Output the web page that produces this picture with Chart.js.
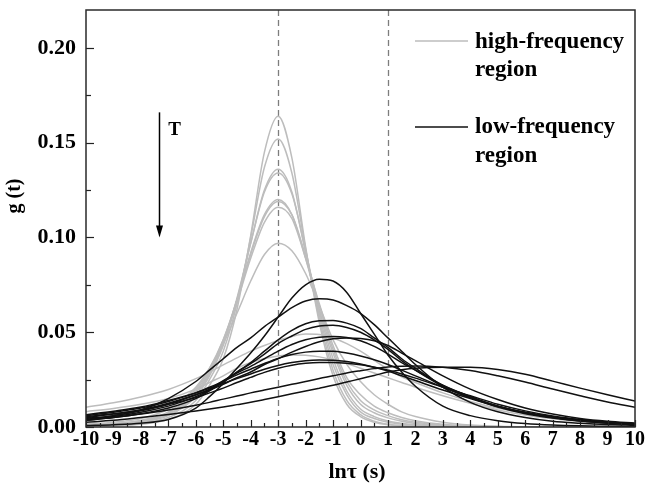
<!DOCTYPE html>
<html>
<head>
<meta charset="utf-8">
<script src="https://cdn.jsdelivr.net/npm/chart.js@4.4.1/dist/chart.umd.min.js"></script>
<style>
html, body { margin: 0; padding: 0; background: #fff; }
#wrap { width: 648px; height: 490px; }
</style>
</head>
<body>
<div id="wrap"><canvas id="chart" width="648" height="490"></canvas></div>
<script>
(function () {
    'use strict';

    // ln(tau) sampling positions shared by every curve
    var lnTau = [-10, -9, -8, -7, -6, -5.5, -5, -4.5, -4, -3.5, -3, -2.5, -2, -1.5, -1, -0.5, 0, 0.5, 1, 1.5, 2, 3, 4, 5, 6, 7, 8, 9, 10];

    // high-frequency region (grey), peaks at ln tau = -3, decreasing with T
    var hf1 = [0.0005, 0.0008, 0.0015, 0.004, 0.012, 0.022, 0.036, 0.062, 0.101, 0.145, 0.164, 0.142, 0.095, 0.055, 0.027, 0.012, 0.0055, 0.0025, 0.0012, 0.0006, 0.0003, 0.0001, 0, 0, 0, 0, 0, 0, 0];
    var hf2 = [0.0006, 0.001, 0.002, 0.005, 0.014, 0.025, 0.040, 0.065, 0.100, 0.137, 0.152, 0.134, 0.094, 0.057, 0.030, 0.014, 0.0065, 0.003, 0.0014, 0.0007, 0.0004, 0.0001, 0, 0, 0, 0, 0, 0, 0];
    var hf3 = [0.0007, 0.0012, 0.0025, 0.006, 0.016, 0.027, 0.043, 0.067, 0.097, 0.125, 0.136, 0.124, 0.092, 0.059, 0.033, 0.017, 0.008, 0.0045, 0.0025, 0.0015, 0.0009, 0.0003, 0.0001, 0, 0, 0, 0, 0, 0];
    var hf4 = [0.0008, 0.0013, 0.0027, 0.0065, 0.017, 0.028, 0.044, 0.068, 0.097, 0.124, 0.134, 0.123, 0.093, 0.061, 0.036, 0.019, 0.0095, 0.0055, 0.0032, 0.002, 0.0012, 0.0005, 0.0002, 0, 0, 0, 0, 0, 0];
    var hf5 = [0.0009, 0.0015, 0.003, 0.007, 0.018, 0.029, 0.045, 0.067, 0.092, 0.112, 0.120, 0.112, 0.089, 0.062, 0.039, 0.022, 0.012, 0.0075, 0.0048, 0.003, 0.0019, 0.0008, 0.0003, 0.0001, 0, 0, 0, 0, 0];
    var hf6 = [0.001, 0.0017, 0.0033, 0.0075, 0.019, 0.030, 0.046, 0.067, 0.091, 0.111, 0.119, 0.112, 0.090, 0.064, 0.041, 0.024, 0.014, 0.009, 0.006, 0.0038, 0.0025, 0.001, 0.0004, 0.0001, 0, 0, 0, 0, 0];
    var hf7 = [0.0011, 0.0018, 0.0035, 0.008, 0.020, 0.031, 0.046, 0.066, 0.089, 0.108, 0.116, 0.110, 0.089, 0.065, 0.043, 0.026, 0.017, 0.011, 0.0075, 0.005, 0.0033, 0.0014, 0.0005, 0.0002, 0, 0, 0, 0, 0];
    var hf8 = [0.0015, 0.0025, 0.0045, 0.0095, 0.021, 0.031, 0.044, 0.060, 0.077, 0.091, 0.097, 0.093, 0.081, 0.064, 0.046, 0.033, 0.024, 0.017, 0.012, 0.008, 0.0055, 0.0025, 0.001, 0.0004, 0.0001, 0, 0, 0, 0];
    var hf9 = [0.0104, 0.0128, 0.0158, 0.0198, 0.0255, 0.029, 0.0328, 0.0365, 0.040, 0.043, 0.0457, 0.0478, 0.049, 0.0488, 0.047, 0.044, 0.040, 0.0352, 0.0305, 0.0265, 0.0235, 0.018, 0.0135, 0.010, 0.0072, 0.005, 0.0033, 0.0022, 0.0014];
    var hf10 = [0.0081, 0.0098, 0.012, 0.015, 0.020, 0.0235, 0.027, 0.031, 0.034, 0.036, 0.0375, 0.038, 0.0378, 0.037, 0.0355, 0.0335, 0.031, 0.0285, 0.026, 0.0235, 0.021, 0.0165, 0.0125, 0.009, 0.0063, 0.0043, 0.0028, 0.0018, 0.0012];

    // low-frequency region (black)
    var lf1 = [0.0008, 0.0012, 0.002, 0.004, 0.010, 0.016, 0.023, 0.031, 0.039, 0.048, 0.058, 0.068, 0.075, 0.078, 0.077, 0.071, 0.060, 0.049, 0.038, 0.029, 0.0215, 0.011, 0.006, 0.0033, 0.0018, 0.001, 0.0006, 0.0004, 0.0002];
    var lf2 = [0.004, 0.006, 0.009, 0.015, 0.024, 0.030, 0.036, 0.042, 0.047, 0.053, 0.058, 0.063, 0.0665, 0.0677, 0.067, 0.064, 0.060, 0.054, 0.047, 0.040, 0.033, 0.021, 0.013, 0.008, 0.005, 0.003, 0.002, 0.0013, 0.0009];
    var lf3 = [0.0035, 0.005, 0.007, 0.010, 0.015, 0.019, 0.024, 0.029, 0.034, 0.040, 0.046, 0.051, 0.0545, 0.056, 0.0562, 0.0548, 0.052, 0.047, 0.042, 0.036, 0.031, 0.022, 0.016, 0.011, 0.0075, 0.005, 0.0033, 0.0022, 0.0014];
    var lf4 = [0.004, 0.0055, 0.0078, 0.011, 0.016, 0.0195, 0.024, 0.029, 0.0335, 0.0385, 0.044, 0.048, 0.0515, 0.0533, 0.0537, 0.0525, 0.050, 0.046, 0.041, 0.035, 0.030, 0.0215, 0.0155, 0.0105, 0.007, 0.0047, 0.0031, 0.002, 0.0013];
    var lf5 = [0.0045, 0.006, 0.0085, 0.012, 0.017, 0.020, 0.0245, 0.0285, 0.032, 0.036, 0.040, 0.0435, 0.046, 0.0473, 0.0478, 0.0472, 0.0455, 0.0425, 0.0385, 0.034, 0.030, 0.022, 0.016, 0.011, 0.0075, 0.005, 0.0033, 0.0022, 0.0014];
    var lf6 = [0.005, 0.0068, 0.009, 0.0125, 0.017, 0.0195, 0.0225, 0.026, 0.029, 0.033, 0.036, 0.0395, 0.0425, 0.045, 0.0465, 0.047, 0.0467, 0.0455, 0.043, 0.039, 0.035, 0.027, 0.020, 0.0145, 0.010, 0.0068, 0.0045, 0.003, 0.002];
    var lf7 = [0.006, 0.0078, 0.010, 0.0135, 0.018, 0.021, 0.024, 0.0275, 0.0305, 0.0335, 0.0362, 0.0382, 0.0395, 0.040, 0.040, 0.039, 0.0375, 0.0355, 0.033, 0.030, 0.027, 0.021, 0.0155, 0.011, 0.0078, 0.0054, 0.0037, 0.0025, 0.0017];
    var lf8 = [0.0065, 0.0083, 0.0105, 0.014, 0.018, 0.0205, 0.023, 0.0255, 0.028, 0.0305, 0.0325, 0.034, 0.035, 0.0353, 0.0352, 0.0345, 0.0332, 0.0315, 0.0295, 0.027, 0.0245, 0.0195, 0.015, 0.0108, 0.0077, 0.0054, 0.0037, 0.0025, 0.0017];
    var lf9 = [0.0055, 0.007, 0.009, 0.012, 0.0155, 0.018, 0.0205, 0.0235, 0.0262, 0.0288, 0.031, 0.0326, 0.0336, 0.034, 0.034, 0.0336, 0.0328, 0.0315, 0.030, 0.028, 0.0258, 0.021, 0.0165, 0.012, 0.0085, 0.0058, 0.0039, 0.0026, 0.0018];
    var lf10 = [0.0025, 0.0035, 0.005, 0.0066, 0.0085, 0.0095, 0.0106, 0.0118, 0.013, 0.0145, 0.016, 0.0175, 0.019, 0.0205, 0.022, 0.0237, 0.0255, 0.0272, 0.029, 0.0302, 0.031, 0.0315, 0.0315, 0.0303, 0.0278, 0.0242, 0.0205, 0.017, 0.0137];
    var lf11 = [0.0035, 0.005, 0.0068, 0.009, 0.0115, 0.013, 0.0147, 0.0163, 0.018, 0.0195, 0.021, 0.0225, 0.024, 0.0256, 0.027, 0.0285, 0.0297, 0.0308, 0.0317, 0.0321, 0.0322, 0.0315, 0.0298, 0.027, 0.0237, 0.020, 0.0165, 0.0132, 0.0104];

    var highFreqSeries = [hf1, hf2, hf3, hf4, hf5, hf6, hf7, hf8, hf9, hf10];
    var lowFreqSeries = [lf1, lf2, lf3, lf4, lf5, lf6, lf7, lf8, lf9, lf10, lf11];

    var yTickLabels = ['0.00', '0.05', '0.10', '0.15', '0.20'];
    var refLines = [-3, 1];
    var legendNames = [['high-frequency', 'region'], ['low-frequency', 'region']];
    var arrowMark = { x: -7.33, yTop: 0.166, yBottom: 0.1, label: 'T' };

    var GREY = '#bdbdbd';
    var BLACK = '#111111';
    var SERIF = '"Liberation Serif", "Times New Roman", serif';

    function toPoints(values) {
        var pts = [];
        for (var i = 0; i < lnTau.length; i++) {
            pts.push({ x: lnTau[i], y: values[i] });
        }
        return pts;
    }

    var datasets = [];
    for (var i = 0; i < highFreqSeries.length; i++) {
        datasets.push({
            label: 'high-frequency region',
            data: toPoints(highFreqSeries[i]),
            borderColor: GREY,
            borderWidth: 1.5,
            order: 1
        });
    }
    for (var j = 0; j < lowFreqSeries.length; j++) {
        datasets.push({
            label: 'low-frequency region',
            data: toPoints(lowFreqSeries[j]),
            borderColor: BLACK,
            borderWidth: 1.5,
            order: 0
        });
    }

    function line(ctx, x1, y1, x2, y2) {
        ctx.beginPath();
        ctx.moveTo(x1, y1);
        ctx.lineTo(x2, y2);
        ctx.stroke();
    }

    var decor = {
        id: 'decor',
        beforeDatasetsDraw: function (chart) {
            var ctx = chart.ctx;
            var a = chart.chartArea;
            var xs = chart.scales.x;
            ctx.save();
            ctx.strokeStyle = '#7d7d7d';
            ctx.lineWidth = 1.3;
            ctx.setLineDash([6, 4]);
            for (var i = 0; i < refLines.length; i++) {
                var px = Math.round(xs.getPixelForValue(refLines[i])) + 0.5;
                line(ctx, px, a.top, px, a.bottom);
            }
            ctx.restore();
        },
        afterDraw: function (chart) {
            var ctx = chart.ctx;
            var a = chart.chartArea;
            var xs = chart.scales.x;
            var ys = chart.scales.y;
            var v, p, len;
            ctx.save();

            // inward tick marks
            ctx.strokeStyle = '#222';
            ctx.lineWidth = 1.2;
            for (v = -10; v <= 10.001; v += 0.5) {
                p = Math.round(xs.getPixelForValue(v)) + 0.5;
                len = Math.abs(v - Math.round(v)) < 1e-6 ? 7 : 4;
                line(ctx, p, a.bottom, p, a.bottom - len);
            }
            for (var k = 0; k <= 8; k++) {
                p = Math.round(ys.getPixelForValue(k * 0.025)) + 0.5;
                len = k % 2 === 0 ? 8 : 5;
                line(ctx, a.left, p, a.left + len, p);
            }

            // frame
            ctx.strokeStyle = '#2a2a2a';
            ctx.lineWidth = 1.5;
            ctx.strokeRect(a.left, a.top, a.right - a.left, a.bottom - a.top);

            // axis titles
            ctx.fillStyle = '#000';
            ctx.font = 'bold 22px ' + SERIF;
            ctx.textAlign = 'center';
            ctx.textBaseline = 'alphabetic';
            ctx.fillText('ln\u03c4 (s)', 357, 478);

            ctx.save();
            ctx.translate(15, 196);
            ctx.rotate(-Math.PI / 2);
            ctx.font = 'bold 20px ' + SERIF;
            ctx.textBaseline = 'middle';
            ctx.fillText('g (t)', 0, 0);
            ctx.restore();

            // legend
            ctx.font = 'bold 23px ' + SERIF;
            ctx.textAlign = 'left';
            ctx.lineWidth = 1.6;
            ctx.strokeStyle = GREY;
            line(ctx, 415, 41, 468, 41);
            ctx.fillText(legendNames[0][0], 475, 48);
            ctx.fillText(legendNames[0][1], 475, 76);
            ctx.strokeStyle = BLACK;
            line(ctx, 415, 127, 468, 127);
            ctx.fillText(legendNames[1][0], 475, 133);
            ctx.fillText(legendNames[1][1], 475, 162);

            // temperature arrow
            var ax = Math.round(xs.getPixelForValue(arrowMark.x)) + 0.5;
            var at = ys.getPixelForValue(arrowMark.yTop);
            var ab = ys.getPixelForValue(arrowMark.yBottom);
            ctx.strokeStyle = '#000';
            ctx.lineWidth = 1.5;
            line(ctx, ax, at, ax, ab - 10);
            ctx.beginPath();
            ctx.moveTo(ax - 3.5, ab - 12);
            ctx.lineTo(ax + 3.5, ab - 12);
            ctx.lineTo(ax, ab);
            ctx.closePath();
            ctx.fill();
            ctx.font = 'bold 19px ' + SERIF;
            ctx.textAlign = 'center';
            ctx.fillText(arrowMark.label, ax + 15, at + 23);

            ctx.restore();
        }
    };

    new Chart(document.getElementById('chart'), {
        type: 'line',
        data: { datasets: datasets },
        plugins: [decor],
        options: {
            responsive: false,
            animation: false,
            devicePixelRatio: 1,
            layout: { padding: { top: 10, right: 13, left: 0, bottom: 0 } },
            elements: {
                point: { radius: 0 },
                line: { cubicInterpolationMode: 'monotone', fill: false }
            },
            plugins: {
                legend: { display: false },
                tooltip: { enabled: false }
            },
            scales: {
                x: {
                    type: 'linear',
                    min: -10,
                    max: 10,
                    grid: { display: false, drawTicks: false },
                    border: { display: false },
                    ticks: {
                        stepSize: 1,
                        autoSkip: false,
                        maxRotation: 0,
                        minRotation: 0,
                        padding: 1,
                        color: '#000',
                        font: { family: SERIF, size: 20, weight: 'bold' }
                    },
                    afterFit: function (scale) {
                        scale.height = 63;
                        scale.paddingLeft = 0;
                        scale.paddingRight = 0;
                    }
                },
                y: {
                    min: 0,
                    max: 0.22,
                    grid: { display: false, drawTicks: false },
                    border: { display: false },
                    ticks: {
                        stepSize: 0.05,
                        includeBounds: false,
                        padding: 10,
                        color: '#000',
                        font: { family: SERIF, size: 22, weight: 'bold' },
                        callback: function (value) {
                            return yTickLabels[Math.round(value / 0.05)];
                        }
                    },
                    afterFit: function (scale) {
                        scale.width = 86;
                        scale.paddingTop = 0;
                        scale.paddingBottom = 0;
                    }
                }
            }
        }
    });
})();
</script>
</body>
</html>
